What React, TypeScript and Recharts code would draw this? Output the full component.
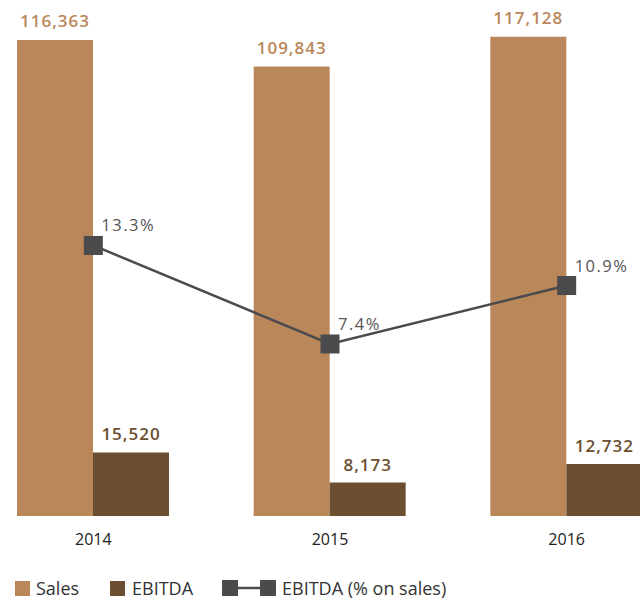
import React from 'react';
import {
  Bar,
  ComposedChart,
  LabelList,
  Legend,
  Line,
  XAxis,
  YAxis,
} from 'recharts';

const years = ['2014', '2015', '2016'];
const sales = [116363, 109843, 117128];
const ebitda = [15520, 8173, 12732];
const ebitdaPct = [13.3, 7.4, 10.9];

const SALES_COLOR = '#b9875a';
const EBITDA_COLOR = '#6b4f30';
const LINE_COLOR = '#4b4b4d';
const FONT = '"Open Sans", "Noto Sans", sans-serif';

const data = years.map((year, i) => ({
  year,
  sales: sales[i],
  ebitda: ebitda[i],
  pct: ebitdaPct[i],
}));

const fmt = (v: number) => v.toLocaleString('en-US');

const SquareDot = (props: any) => {
  const { cx, cy } = props;
  if (cx == null || cy == null) return null;
  return <rect x={cx - 9.5} y={cy - 9.5} width={19} height={19} fill={LINE_COLOR} />;
};

const PctLabel = (props: any) => {
  const { x, y, value } = props;
  return (
    <text x={x + 8} y={y - 14} fill="#555" fontSize={16.5} fontWeight={500} letterSpacing={1.5} fontFamily={FONT}>
      {value.toFixed(1)}%
    </text>
  );
};

const LegendContent = () => (
  <div style={{ display: 'flex', alignItems: 'center', height: 24, fontFamily: FONT, fontSize: 18, color: '#333', whiteSpace: 'nowrap' }}>
    <span style={{ width: 15, height: 15, background: SALES_COLOR, display: 'inline-block', flex: 'none' }} />
    <span style={{ marginLeft: 6, width: 74 }}>Sales</span>
    <span style={{ width: 15, height: 15, background: EBITDA_COLOR, display: 'inline-block', flex: 'none' }} />
    <span style={{ marginLeft: 7, width: 90 }}>EBITDA</span>
    <svg width={54} height={16} style={{ display: 'inline-block', flex: 'none' }}>
      <line x1={8} y1={8} x2={46} y2={8} stroke={LINE_COLOR} strokeWidth={2.5} />
      <rect x={0} y={0} width={16} height={16} fill={LINE_COLOR} />
      <rect x={38} y={0} width={16} height={16} fill={LINE_COLOR} />
    </svg>
    <span style={{ marginLeft: 6 }}>EBITDA (% on sales)</span>
  </div>
);

export default function App() {
  return (
    <div style={{ position: 'absolute', left: 0, top: 0, width: 640, height: 600, overflow: 'hidden', background: '#fff' }}>
      <div style={{ position: 'absolute', left: -25, top: 0 }}>
        <ComposedChart
          width={710}
          height={600}
          data={data}
          margin={{ top: 25, right: 0, bottom: 0, left: 0 }}
          barGap={0}
          style={{ fontFamily: FONT }}
        >
          <XAxis
            dataKey="year"
            axisLine={false}
            tickLine={false}
            tickSize={0}
            tickMargin={18}
            height={84}
            tick={{ fontSize: 16, fill: '#222', fontFamily: FONT }}
          />
          <YAxis yAxisId="l" domain={[0, 120000]} hide />
          <YAxis yAxisId="r" orientation="right" domain={[-2.9, 26.5]} hide />
          <Legend
            layout="vertical"
            align="center"
            verticalAlign="middle"
            content={<LegendContent />}
            wrapperStyle={{ left: 40, top: 576, width: 520, height: 24 }}
          />
          <Bar yAxisId="l" dataKey="sales" name="Sales" fill={SALES_COLOR} barSize={76} isAnimationActive={false}>
            <LabelList
              dataKey="sales"
              position="top"
              offset={13}
              formatter={(v: any) => fmt(v)}
              fill={SALES_COLOR}
              fontSize={17}
              fontWeight={600}
              letterSpacing={1}
              fontFamily={FONT}
            />
          </Bar>
          <Bar yAxisId="l" dataKey="ebitda" name="EBITDA" fill={EBITDA_COLOR} barSize={76} isAnimationActive={false}>
            <LabelList
              dataKey="ebitda"
              position="top"
              offset={12}
              formatter={(v: any) => fmt(v)}
              fill={EBITDA_COLOR}
              fontSize={17}
              fontWeight={600}
              letterSpacing={1}
              fontFamily={FONT}
            />
          </Bar>
          <Line
            yAxisId="r"
            dataKey="pct"
            name="EBITDA (% on sales)"
            stroke={LINE_COLOR}
            strokeWidth={2.5}
            dot={<SquareDot />}
            activeDot={false}
            isAnimationActive={false}
          >
            <LabelList dataKey="pct" content={<PctLabel />} />
          </Line>
        </ComposedChart>
      </div>
    </div>
  );
}
